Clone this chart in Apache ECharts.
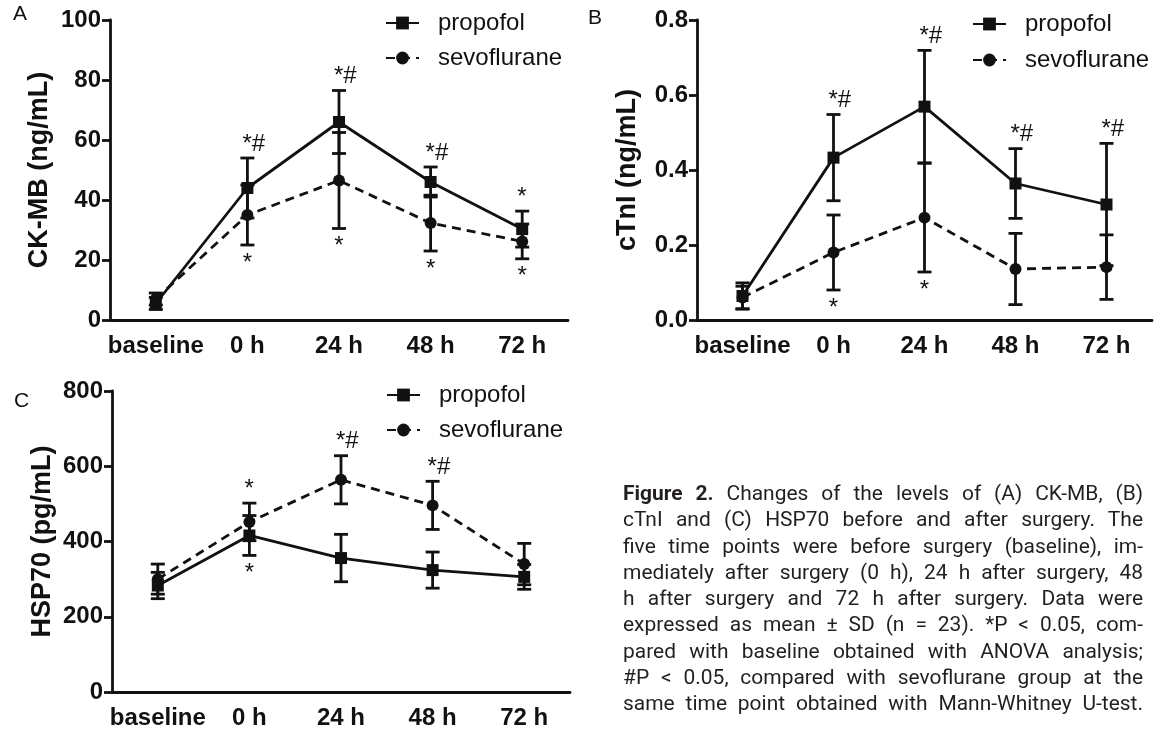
<!DOCTYPE html>
<html>
<head>
<meta charset="utf-8">
<script src="https://cdn.jsdelivr.net/npm/echarts@6/dist/echarts.min.js"></script>
<style>
  html, body { margin: 0; padding: 0; background: #fff; }
  #chart { position: absolute; left: 0; top: 0; width: 1156px; height: 733px; }
  #caption {
    position: absolute; left: 623px; top: 480px; width: 520px;
    font-family: 'Roboto', sans-serif; font-size: 21px; line-height: 26.25px;
    color: #231f20; transform-origin: 0 0;
  }
  #caption div { text-align: justify; text-align-last: justify; }
  #caption span { white-space: nowrap; }
  #caption b { font-weight: bold; }
  .warm { position: absolute; left: -999px; top: 0; font-family: 'Liberation Sans'; }
</style>
</head>
<body>
<span class="warm">propofol</span><span class="warm" style="font-weight:bold">baseline</span>
<div id="chart"></div>
<div id="caption">
  <div><span><b>Figure 2.</b> Changes of the levels of (A) CK-MB, (B)</span></div>
  <div><span>cTnI and (C) HSP70 before and after surgery. The</span></div>
  <div><span>five time points were before surgery (baseline), im-</span></div>
  <div><span>mediately after surgery (0 h), 24 h after surgery, 48</span></div>
  <div><span>h after surgery and 72 h after surgery. Data were</span></div>
  <div><span>expressed as mean ± SD (n = 23). *P &lt; 0.05, com-</span></div>
  <div><span>pared with baseline obtained with ANOVA analysis;</span></div>
  <div><span>#P &lt; 0.05, compared with sevoflurane group at the</span></div>
  <div><span>same time point obtained with Mann-Whitney U-test.</span></div>
</div>
<script>
// time points
const categories = ['baseline', '0 h', '24 h', '48 h', '72 h'];

// A: CK-MB (ng/mL)
const ckmbPropofol = [5.5, 44, 66, 46, 30.3];
const ckmbPropofolSD = [2, 10, 10.5, 5, 6];
const ckmbSevo = [7, 35, 46.5, 32.3, 26.2];
const ckmbSevoSD = [2, 10, 16, 9.3, 5.8];
const ckmbAbove = ['', '*#', '*#', '*#', '*'];
const ckmbBelow = ['', '*', '*', '*', '*'];
const ckmbTicks = [0, 100, 20];

// B: cTnI (ng/mL)
const ctniPropofol = [0.064, 0.433, 0.569, 0.364, 0.308];
const ctniPropofolSD = [0.035, 0.115, 0.15, 0.093, 0.163];
const ctniSevo = [0.06, 0.18, 0.273, 0.136, 0.141];
const ctniSevoSD = [0.03, 0.1, 0.145, 0.095, 0.086];
const ctniAbove = ['', '*#', '*#', '*#', '*#'];
const ctniBelow = ['', '*', '*', '', ''];
const ctniTicks = [0, 0.8, 0.2];

// C: HSP70 (pg/mL)
const hspPropofol = [283, 416, 356, 324, 306];
const hspPropofolSD = [35, 53, 63, 48, 33];
const hspSevo = [300, 452, 564, 496, 340];
const hspSevoSD = [40, 50, 64, 64, 55];
const hspAbove = ['', '*', '*#', '*#', ''];
const hspBelow = ['', '*', '', '', ''];
const hspTicks = [0, 800, 200];

const ink = '#111';
const font = '"Liberation Sans", Arial, sans-serif';
const lw = 2.8;

function errorBars(name, means, sds, g) {
  return {
    type: 'custom', name: name, xAxisIndex: g, yAxisIndex: g, z: 3, silent: true,
    data: means.map((m, i) => [i, m - sds[i], m + sds[i]]),
    renderItem: function (params, api) {
      let lo = api.coord([api.value(0), api.value(1)]);
      let hi = api.coord([api.value(0), api.value(2)]);
      let w = 7;
      let st = { stroke: ink, lineWidth: lw };
      return {
        type: 'group', children: [
          { type: 'line', shape: { x1: hi[0], y1: hi[1], x2: lo[0], y2: lo[1] }, style: st },
          { type: 'line', shape: { x1: hi[0] - w, y1: hi[1], x2: hi[0] + w, y2: hi[1] }, style: st },
          { type: 'line', shape: { x1: lo[0] - w, y1: lo[1], x2: lo[0] + w, y2: lo[1] }, style: st }
        ]
      };
    }
  };
}

function marks(a, aSD, b, bSD, above, below, g) {
  return {
    type: 'custom', name: 'marks' + g, xAxisIndex: g, yAxisIndex: g, z: 5, silent: true,
    data: a.map((v, i) => [i, Math.max(v + aSD[i], b[i] + bSD[i]), Math.min(v - aSD[i], b[i] - bSD[i])]),
    renderItem: function (params, api) {
      let i = params.dataIndex;
      let top = api.coord([i, api.value(1)]);
      let bot = api.coord([i, api.value(2)]);
      return {
        type: 'group', children: [
          { type: 'text', x: top[0] - 5, y: top[1] - 2,
            style: { text: above[i], fontSize: 24, fontFamily: font, fill: ink, align: 'left', verticalAlign: 'bottom' } },
          { type: 'text', x: bot[0], y: bot[1] + 6,
            style: { text: below[i], fontSize: 24, fontFamily: font, fill: ink, align: 'center', verticalAlign: 'top' } }
        ]
      };
    }
  };
}

function lines(a, b, g) {
  return [
    { type: 'line', name: 'propofol', xAxisIndex: g, yAxisIndex: g, data: a, z: 4,
      symbol: 'rect', symbolSize: 12, itemStyle: { color: ink },
      lineStyle: { color: ink, width: lw } },
    { type: 'line', name: 'sevoflurane', xAxisIndex: g, yAxisIndex: g, data: b, z: 4,
      symbol: 'circle', symbolSize: 12, itemStyle: { color: ink },
      lineStyle: { color: ink, width: lw, type: [9, 6] } }
  ];
}

function xAxis(g) {
  return {
    type: 'category', gridIndex: g, data: categories, boundaryGap: true,
    axisLine: { lineStyle: { color: ink, width: lw } },
    axisTick: { alignWithLabel: true, length: 8, lineStyle: { color: ink, width: lw } },
    axisLabel: { interval: 0, hideOverlap: false, color: ink, fontSize: 24, fontWeight: 'bold',
      fontFamily: font, margin: 14 }
  };
}

function yAxis(g, ticks, name, digits, gap) {
  return {
    type: 'value', gridIndex: g, min: ticks[0], max: ticks[1], interval: ticks[2],
    name: name, nameLocation: 'middle', nameGap: gap,
    nameTextStyle: { color: ink, fontSize: 27, fontWeight: 'bold', fontFamily: font },
    axisLine: { show: true, lineStyle: { color: ink, width: lw } },
    axisTick: { show: true, length: 8, lineStyle: { color: ink, width: lw } },
    axisLabel: { color: ink, fontSize: 24, fontWeight: 'bold', fontFamily: font, margin: 9,
      formatter: v => v.toFixed(digits) },
    splitLine: { show: false }
  };
}

function legend(left, top, gap) {
  return {
    left: left, top: top, orient: 'vertical', padding: 0, itemGap: gap,
    itemWidth: 33, itemHeight: 16,
    data: ['propofol', 'sevoflurane'],
    textStyle: { color: ink, fontSize: 24, fontFamily: font, padding: [0, 0, 0, 14] }
  };
}

function draw() {
  let chart = echarts.init(document.getElementById('chart'));
  chart.setOption({
    animation: false,
    grid: [
      { left: 110, top: 20, width: 458, height: 300 },
      { left: 697, top: 20, width: 455, height: 300 },
      { left: 112, top: 391, width: 458, height: 301 }
    ],
    xAxis: [xAxis(0), xAxis(1), xAxis(2)],
    yAxis: [
      yAxis(0, ckmbTicks, 'CK-MB (ng/mL)', 0, 57),
      yAxis(1, ctniTicks, 'cTnI (ng/mL)', 1, 56),
      yAxis(2, hspTicks, 'HSP70 (pg/mL)', 0, 56)
    ],
    legend: [legend(385, 11, 11), legend(972, 12, 12), legend(386, 383, 11)],
    graphic: [
      { type: 'text', left: 13, top: 4, style: { text: 'A', fontSize: 21, fontFamily: font, fill: ink } },
      { type: 'text', left: 588, top: 8, style: { text: 'B', fontSize: 21, fontFamily: font, fill: ink } },
      { type: 'text', left: 14, top: 391, style: { text: 'C', fontSize: 21, fontFamily: font, fill: ink } }
    ],
    series: [
      errorBars('propofol sd', ckmbPropofol, ckmbPropofolSD, 0),
      errorBars('sevoflurane sd', ckmbSevo, ckmbSevoSD, 0),
      ...lines(ckmbPropofol, ckmbSevo, 0),
      marks(ckmbPropofol, ckmbPropofolSD, ckmbSevo, ckmbSevoSD, ckmbAbove, ckmbBelow, 0),

      errorBars('propofol sd', ctniPropofol, ctniPropofolSD, 1),
      errorBars('sevoflurane sd', ctniSevo, ctniSevoSD, 1),
      ...lines(ctniPropofol, ctniSevo, 1),
      marks(ctniPropofol, ctniPropofolSD, ctniSevo, ctniSevoSD, ctniAbove, ctniBelow, 1),

      errorBars('propofol sd', hspPropofol, hspPropofolSD, 2),
      errorBars('sevoflurane sd', hspSevo, hspSevoSD, 2),
      ...lines(hspPropofol, hspSevo, 2),
      marks(hspPropofol, hspPropofolSD, hspSevo, hspSevoSD, hspAbove, hspBelow, 2)
    ]
  });
}

// stretch or squeeze the caption horizontally so the longest line fills the column
function fitCaption() {
  let cap = document.getElementById('caption');
  let maxW = 0;
  cap.querySelectorAll('span').forEach(s => { maxW = Math.max(maxW, s.getBoundingClientRect().width); });
  let s = Math.max(0.9, Math.min(1.25, 520 / (maxW + 1)));
  cap.style.width = (520 / s) + 'px';
  cap.style.transform = 'scaleX(' + s + ')';
}

Promise.all([
  document.fonts.load('24px "Liberation Sans"'),
  document.fonts.load('bold 24px "Liberation Sans"')
]).catch(() => {}).then(() => document.fonts.ready).then(() => { draw(); fitCaption(); });
</script>
</body>
</html>
